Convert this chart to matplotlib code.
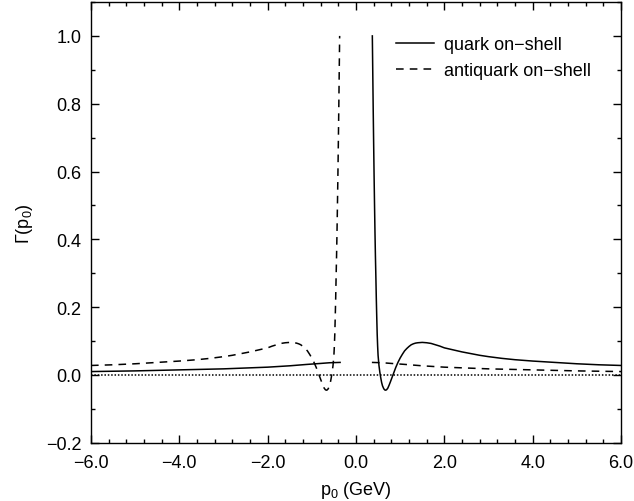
import matplotlib
matplotlib.use("Agg")
import matplotlib.pyplot as plt
from matplotlib.ticker import MultipleLocator, FuncFormatter

plt.rcParams['font.family'] = ['Liberation Sans', 'DejaVu Sans']
plt.rcParams['mathtext.fontset'] = 'custom'
plt.rcParams['mathtext.rm'] = 'Liberation Sans'

# quark on-shell (solid) : two branches
quark_left_x = [-6.0, -5.0, -4.0, -3.0, -2.0, -1.5, -1.12, -0.8, -0.6, -0.36]
quark_left_y = [0.010, 0.012, 0.015, 0.018, 0.023, 0.027, 0.031, 0.034, 0.036, 0.037]
quark_right_x = [0.37, 0.38, 0.39, 0.40, 0.41, 0.42, 0.43, 0.44, 0.45, 0.46, 0.47,
                 0.48, 0.49, 0.50, 0.52, 0.54, 0.56, 0.58, 0.60, 0.63, 0.66, 0.69,
                 0.72, 0.75, 0.78, 0.82, 0.86, 0.90, 0.95, 1.00, 1.05, 1.10, 1.15,
                 1.20, 1.25, 1.30, 1.35, 1.40, 1.50, 1.60, 1.70, 1.80, 1.90, 2.00,
                 2.20, 2.40, 2.60, 2.80, 3.00, 3.30, 3.60, 4.00, 4.50, 5.00, 5.50, 6.00]
quark_right_y = [1.0, 0.89, 0.78, 0.68, 0.585, 0.50, 0.42, 0.35, 0.29, 0.225, 0.17,
                 0.12, 0.085, 0.058, 0.028, 0.008, -0.008, -0.022, -0.032, -0.041, -0.045, -0.044,
                 -0.039, -0.030, -0.020, -0.006, 0.008, 0.022, 0.037, 0.050, 0.061, 0.071, 0.078,
                 0.084, 0.089, 0.092, 0.094, 0.095, 0.096, 0.095, 0.093, 0.089, 0.085, 0.080,
                 0.074, 0.068, 0.063, 0.058, 0.054, 0.049, 0.045, 0.041, 0.037, 0.033, 0.030, 0.028]

# antiquark on-shell (dashed) : two branches
anti_left_x = [-6.00, -5.50, -5.00, -4.50, -4.00, -3.60, -3.30, -3.00, -2.80, -2.60,
               -2.40, -2.20, -2.00, -1.90, -1.80, -1.70, -1.60, -1.50, -1.40, -1.35,
               -1.30, -1.25, -1.20, -1.15, -1.10, -1.05, -1.00, -0.95, -0.90, -0.86,
               -0.82, -0.78, -0.75, -0.72, -0.69, -0.66, -0.63, -0.60, -0.58, -0.56,
               -0.54, -0.52, -0.50, -0.49, -0.48, -0.47, -0.46, -0.45, -0.44, -0.43,
               -0.42, -0.41, -0.40, -0.39, -0.38, -0.37]
anti_left_y = [0.028, 0.030, 0.033, 0.037, 0.041, 0.045, 0.049, 0.054, 0.058, 0.063,
               0.068, 0.074, 0.080, 0.085, 0.089, 0.093, 0.095, 0.096, 0.095, 0.094,
               0.092, 0.089, 0.084, 0.078, 0.071, 0.061, 0.050, 0.037, 0.022, 0.008,
               -0.006, -0.020, -0.030, -0.039, -0.044, -0.045, -0.041, -0.032, -0.022, -0.008,
               0.008, 0.028, 0.058, 0.085, 0.12, 0.17, 0.225, 0.29, 0.35, 0.42,
               0.50, 0.585, 0.68, 0.78, 0.89, 1.0]
anti_right_x = [0.36, 0.6, 0.8, 1.12, 1.5, 2.0, 3.0, 4.0, 5.0, 6.0]
anti_right_y = [0.037, 0.036, 0.034, 0.031, 0.027, 0.023, 0.018, 0.015, 0.012, 0.010]

zero_x = [-6.0, 6.0]
zero_y = [0.0, 0.0]

FS = 13

fig = plt.figure(figsize=(6.34, 5.02), dpi=100)
ax = fig.add_axes([0.1435, 0.116, 0.836, 0.878])

ax.plot(zero_x, zero_y, color='black', linestyle=(0, (1, 1.2)), linewidth=1.1)
ax.plot(quark_left_x, quark_left_y, color='black', linewidth=1.1, label='quark on\u2212shell')
ax.plot(quark_right_x, quark_right_y, color='black', linewidth=1.1)
ax.plot(anti_left_x, anti_left_y, color='black', linewidth=1.1,
        linestyle=(0, (5, 4)), label='antiquark on\u2212shell')
ax.plot(anti_right_x, anti_right_y, color='black', linewidth=1.1, linestyle=(0, (5, 4)))

fmt = FuncFormatter(lambda v, pos: ('%.1f' % v).replace('-', '\u2212'))

ax.set_xlim(-6, 6)
ax.set_ylim(-0.2, 1.1)
ax.xaxis.set_major_locator(MultipleLocator(2.0))
ax.xaxis.set_minor_locator(MultipleLocator(0.4))
ax.yaxis.set_major_locator(MultipleLocator(0.2))
ax.yaxis.set_minor_locator(MultipleLocator(0.1))
ax.xaxis.set_major_formatter(fmt)
ax.yaxis.set_major_formatter(fmt)
ax.tick_params(which='both', direction='in', top=True, right=True, labelsize=FS)
ax.tick_params(which='major', length=6, width=1)
ax.tick_params(which='minor', length=3, width=1)
ax.tick_params(axis='x', which='major', pad=8)
ax.tick_params(axis='y', which='major', pad=7)
for s in ax.spines.values():
    s.set_linewidth(1.0)

ax.set_xlabel('p$_0$ (GeV)', fontsize=FS, labelpad=6)
ax.set_ylabel('\u0393(p$_0$)', fontsize=FS, labelpad=8)

ax.legend(loc='upper left', bbox_to_anchor=(0.575, 0.922), frameon=False,
          fontsize=FS, handlelength=2.1, handletextpad=0.6, borderpad=0,
          borderaxespad=0, labelspacing=0.5)

fig.savefig('out.png', dpi=100)
